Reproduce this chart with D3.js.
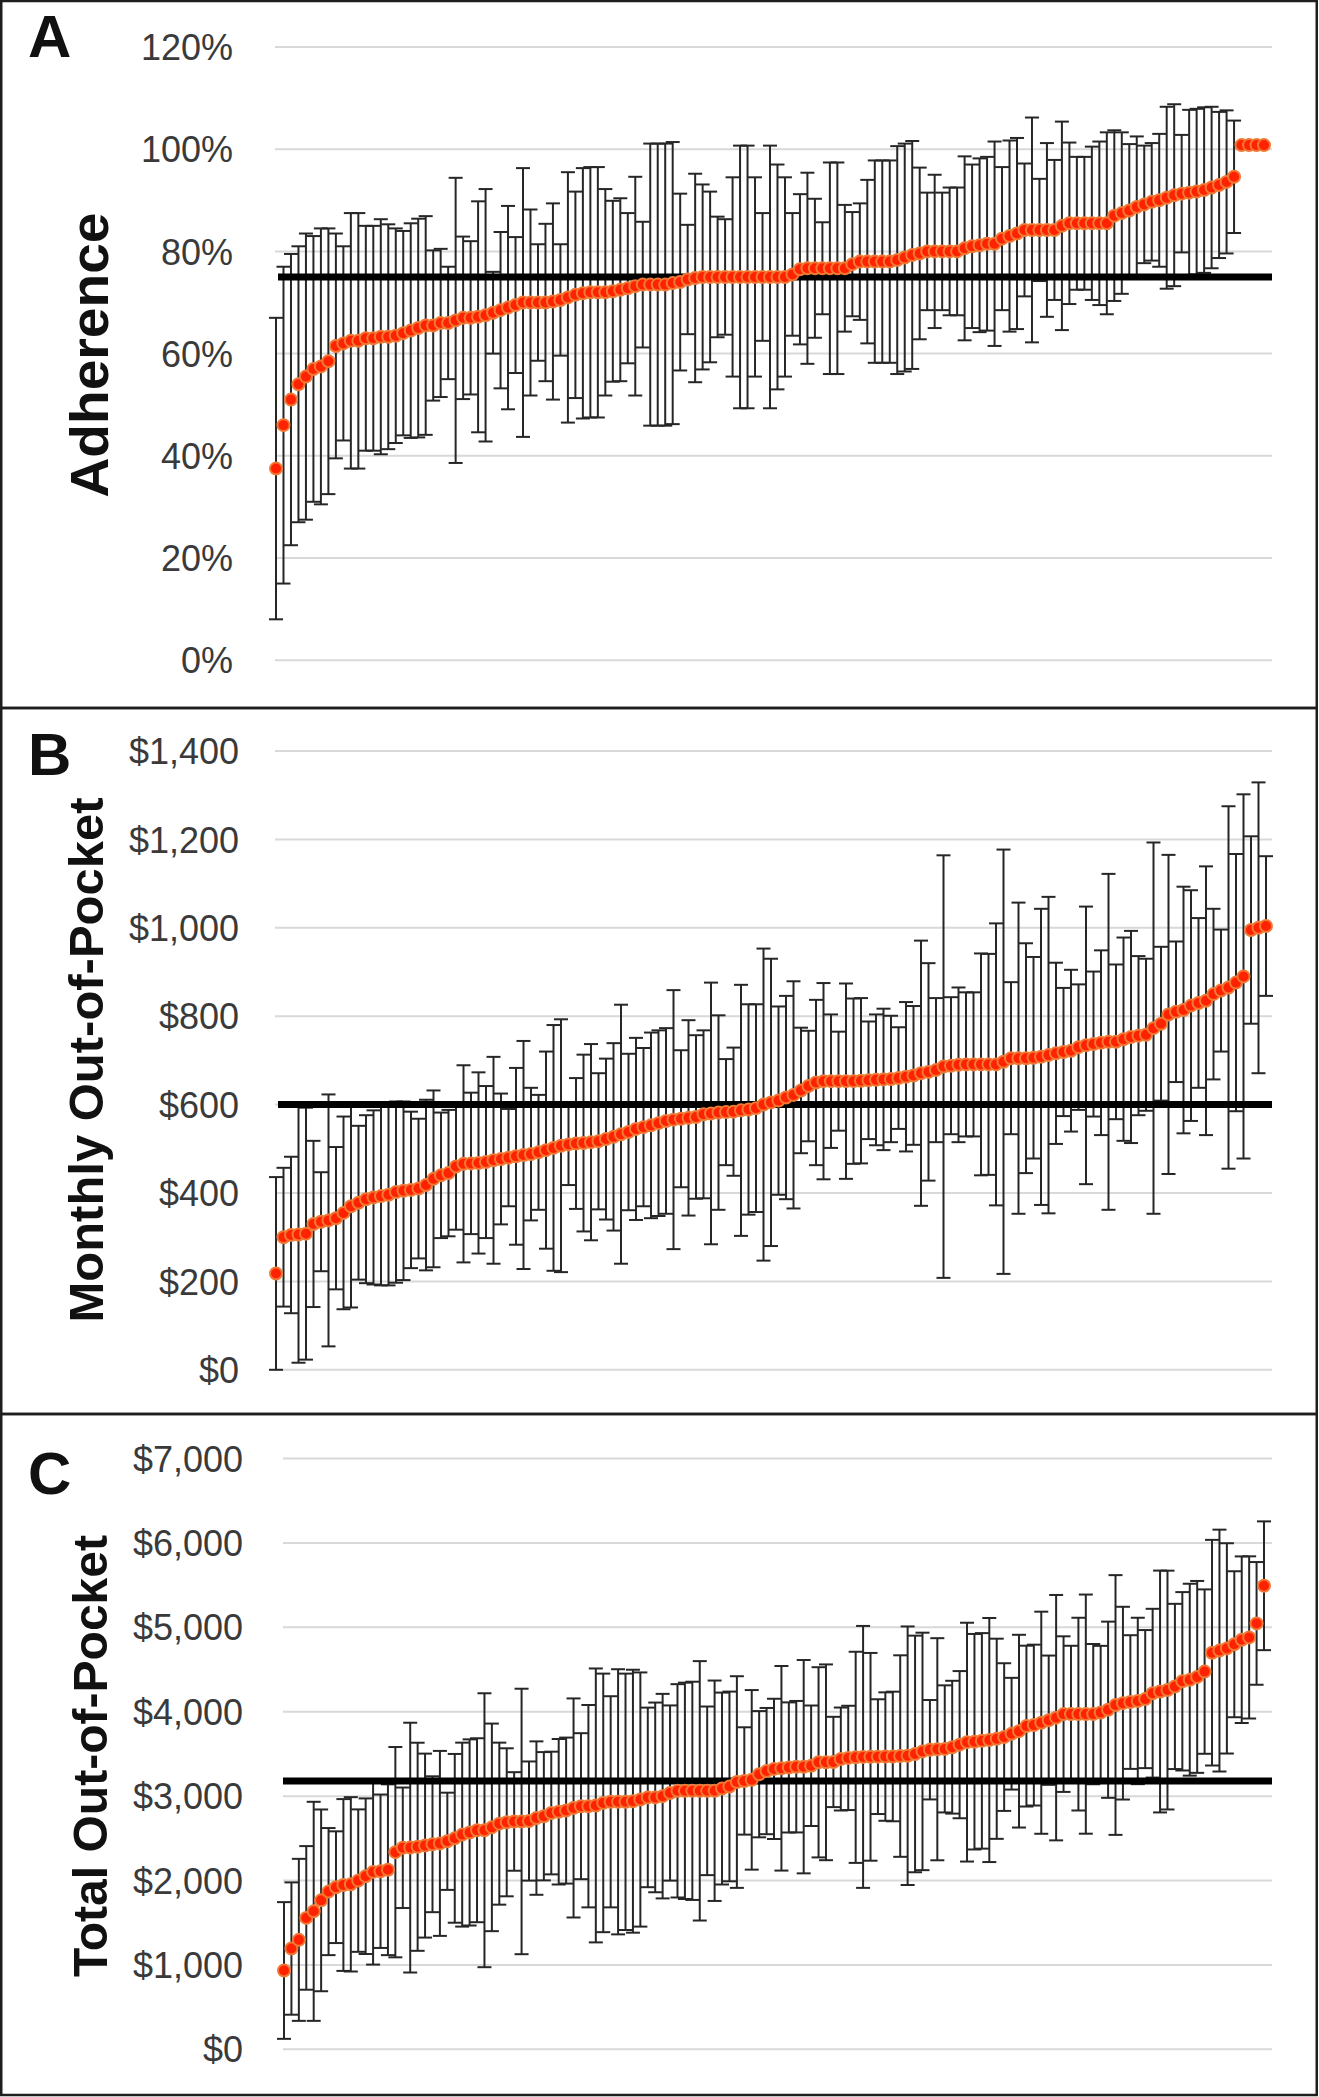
<!DOCTYPE html>
<html>
<head>
<meta charset="utf-8">
<script src="https://cdn.jsdelivr.net/npm/d3@7"></script>
<style>
  html, body { margin: 0; padding: 0; background: #ffffff; }
  svg { display: block; }
</style>
</head>
<body>
<script>
// ---------------- DATA ----------------
// Panel A: adherence (%) per plan, sorted; error = half-width of error bar
const adherenceMean = [
  37.5, 46, 51, 54, 55.5, 57, 57.5, 58.5, 61.5, 62,
  62.5, 62.5, 63, 63, 63.3, 63.3, 63.5, 64, 64.5, 65,
  65.5, 65.5, 66, 66, 66.5, 67, 67, 67.2, 67.5, 68,
  68.5, 69, 69.5, 70, 70, 70, 70, 70.2, 70.5, 71,
  71.5, 71.8, 72, 72, 72, 72.2, 72.5, 72.8, 73.2, 73.5,
  73.5, 73.5, 73.5, 73.8, 74, 74.5, 74.8, 75, 75, 75,
  75, 75, 75, 75, 75, 75, 75, 75, 75, 75.5,
  76.5, 76.7, 76.7, 76.7, 76.7, 76.7, 76.7, 77.5, 78, 78,
  78, 78, 78, 78.3, 78.8, 79.3, 79.6, 80, 80, 80,
  80, 80, 80.6, 81, 81.2, 81.5, 81.5, 82.5, 83, 83.5,
  84.2, 84.2, 84.2, 84.2, 84.2, 85, 85.5, 85.5, 85.5, 85.5,
  85.5, 85.5, 87, 87.5, 88, 88.7, 89.2, 89.7, 90, 90.5,
  91, 91.3, 91.5, 91.7, 92, 92.5, 93, 93.6, 94.6, 100.8,
  100.8, 100.8, 100.8
];
const adherenceErr = [
  29.5, 31, 28.5, 27, 28, 26, 27, 26, 22, 19,
  25, 25, 22, 22, 23, 22, 21, 20, 21,
  21.4, 21.4, 14.7, 14.5, 11, 27.9, 15.9, 15, 22.6, 24.7,
  8, 15.3, 19.9, 13.3, 26.3, 18.2, 11.4, 15.4, 19.2, 10.9,
  24.5, 20.2, 24.5, 24.5, 24.5, 20.2, 17.7, 17.9, 14.7, 21.4,
  12.3, 27.6, 27.6, 27.6, 27.6, 17.3, 10.7, 20.4, 18.1, 16.7,
  11.8, 11.3, 19.5, 25.7, 25.7, 19.5, 12.5, 25.7, 22, 19.5,
  12, 14.7, 18.7, 13.6, 9, 20.7, 20.7, 12.4, 10.2,
  11.4, 16, 19.8, 19.8, 19.8, 22.3, 22.3, 22.3, 16.8, 11.5,
  15, 11.5, 12.5, 12.5, 18, 16, 17, 17, 20, 14,
  18.7, 18.7, 13, 22, 10, 17, 13.7, 20.4, 15.8, 13,
  13, 15, 16, 17.8, 16.7, 15.8, 13, 13.8, 11.5, 11.5,
  13, 17.8, 17.8, 11.5, 16.2, 16.2, 16.2, 15.8, 14.3, 14,
  11, 0, 0, 0, 0
];
const adherenceThreshold = 75;
const adherenceTicks = [0, 20, 40, 60, 80, 100, 120];
const adherenceTickLabels = ["0%", "20%", "40%", "60%", "80%", "100%", "120%"];

// Panel B: monthly out-of-pocket ($)
const monthlyMean = [
  218, 300, 305, 306, 308, 330, 335, 338, 343, 355, 370, 378, 386, 390, 393, 396, 402, 405, 407, 410,
  418, 432, 440, 445, 460, 466, 467, 468, 470, 474, 477, 480, 483, 486, 488, 492, 497, 502, 507, 510,
  512, 513, 515, 517, 522, 527, 533, 538, 545, 549, 553, 558, 563, 566, 568, 570, 572, 578, 580, 582,
  583, 584, 587, 589, 592, 600, 605, 609, 616, 622, 632, 642, 650, 653, 653, 653, 653, 653, 654, 655,
  656, 657, 658, 660, 663, 666, 671, 674, 678, 686, 688, 690, 691, 691, 691, 691, 691, 697, 705, 705,
  705, 706, 708, 712, 716, 719, 722, 730, 734, 737, 740, 742, 742, 748, 753, 756, 758, 773, 783, 804,
  810, 814, 824, 830, 835, 850, 858, 865, 876, 890, 995, 1000, 1004
];
const monthlyErr = [
  218, 157, 177, 290, 285, 188, 112, 285, 161, 218,
  229, 174, 190, 197, 202, 205, 205, 202, 177, 158,
  193, 200, 142, 143, 143, 223, 160, 205, 172, 234,
  148, 110, 200, 258, 150, 130, 223, 278, 286, 92,
  148, 200, 222, 154, 182, 212, 293, 177, 206, 179,
  210, 210, 210, 293, 155, 221, 185, 190, 296, 220,
  120, 145, 284, 238, 235, 353, 325, 213, 230, 257,
  142, 125, 187, 222, 151, 112, 221, 187,
  187, 133, 148, 160, 143, 115, 169, 157, 300, 246,
  163, 478, 155, 175, 163, 163, 251, 250, 319, 480,
  172, 352, 260, 228, 335, 358, 205, 145, 183, 142,
  314, 164, 209, 380, 175, 230, 240, 180, 172, 420,
  174, 361, 159, 279, 261, 192, 304, 193, 138, 410,
  291, 412, 212, 329, 158
];
const monthlyThreshold = 600;
const monthlyTicks = [0, 200, 400, 600, 800, 1000, 1200, 1400];
const monthlyTickLabels = ["$0", "$200", "$400", "$600", "$800", "$1,000", "$1,200", "$1,400"];

// Panel C: total out-of-pocket ($)
const totalMean = [
  934, 1194, 1297, 1557, 1635, 1765, 1869, 1921, 1947, 1955, 1999, 2051, 2102, 2110, 2128, 2336, 2388, 2390,
  2400, 2414, 2430, 2440, 2465, 2500, 2544, 2570, 2596, 2596, 2630, 2674, 2690, 2700, 2700, 2705, 2740, 2762, 2800, 2815, 2829, 2860,
  2881, 2881, 2890, 2920, 2933, 2933, 2933, 2940, 2960, 2985, 2985, 3000, 3037, 3063, 3063, 3063, 3063, 3063, 3064, 3090,
  3115, 3167, 3180, 3193, 3260, 3297, 3323, 3330, 3340, 3349, 3349, 3360, 3401, 3401, 3405, 3440, 3453, 3460, 3465, 3466,
  3468, 3469, 3470, 3475, 3479, 3500, 3530, 3550, 3556, 3560, 3580, 3610, 3640, 3645, 3655, 3665, 3680, 3700, 3740, 3770,
  3830, 3842, 3870, 3900, 3930, 3972, 3972, 3972, 3972, 3972, 3990, 4024, 4080, 4102, 4115, 4128, 4150, 4220, 4240, 4257,
  4300, 4361, 4380, 4413, 4476, 4700, 4725, 4751, 4800, 4854, 4881, 5047, 5493
];
const totalErr = [
  810, 784, 960, 851, 1298, 1077, 753, 662, 1018, 1033,
  844, 922, 1098, 909, 1012, 1246, 714, 1480, 1233, 1090,
  805,
  1096, 576, 1000, 1090, 1103, 1090, 1623, 1230, 960, 877,
  584, 1573, 706, 909, 760, 727, 862, 865, 1298, 865,
  1199, 1623, 1532, 1251, 1571, 1519, 1558, 1506, 1064, 1124,
  1212, 1038, 1264, 1282, 1293, 1537, 999, 1306, 1137, 1124,
  1254, 636, 1064, 748, 748, 831, 1212, 771, 779, 1264,
  714, 1127, 1160, 535, 610, 618, 1251,
  1552, 1231, 680, 761, 768, 1194, 1532, 1402, 1407, 589,
  1316, 753, 787, 872, 1415, 1277, 1277, 1446, 1186, 875,
  662, 1142, 953, 953, 1316, 766, 1454, 922, 810, 1142,
  1417, 831, 791, 1044, 1539, 1142, 792, 986, 818, 1000,
  1433, 1415, 979, 1057, 1137, 1137, 974, 1337, 1433, 1246,
  865, 987, 961, 727, 763
];
const totalThreshold = 3180;
const totalTicks = [0, 1000, 2000, 3000, 4000, 5000, 6000, 7000];
const totalTickLabels = ["$0", "$1,000", "$2,000", "$3,000", "$4,000", "$5,000", "$6,000", "$7,000"];

const panelLetters = ["A", "B", "C"];
const axisTitles = ["Adherence", "Monthly Out-of-Pocket", "Total Out-of-Pocket"];

// ---------------- LAYOUT ----------------
const panels = [
  { mean: adherenceMean, err: adherenceErr, thr: adherenceThreshold,
    ticks: adherenceTicks, labels: adherenceTickLabels, letter: panelLetters[0], title: axisTitles[0],
    box: [1, 708], yRange: [660.2, 47], xRange: [276, 1264], grid: [275, 1272], thrX: [278, 1272],
    tickX: 233, titleX: 108, titleY: 355, titleLen: 285, titleSize: 54, letterY: 56.5 },
  { mean: monthlyMean, err: monthlyErr, thr: monthlyThreshold,
    ticks: monthlyTicks, labels: monthlyTickLabels, letter: panelLetters[1], title: axisTitles[1],
    box: [708, 1414], yRange: [1369.8, 751], xRange: [276, 1266], grid: [275, 1272], thrX: [278, 1272],
    tickX: 239, titleX: 103, titleY: 1060, titleLen: 525, titleSize: 49, letterY: 775 },
  { mean: totalMean, err: totalErr, thr: totalThreshold,
    ticks: totalTicks, labels: totalTickLabels, letter: panelLetters[2], title: axisTitles[2],
    box: [1414, 2095], yRange: [2049.3, 1458.6], xRange: [284, 1264], grid: [283, 1272], thrX: [283, 1272],
    tickX: 243, titleX: 107, titleY: 1756, titleLen: 442, titleSize: 48, letterY: 1494 }
];

const svg = d3.select("body").append("svg")
  .attr("width", 1319).attr("height", 2097);

svg.append("rect").attr("x", 0).attr("y", 0).attr("width", 1319).attr("height", 2097).attr("fill", "#fff");

panels.forEach(p => {
  const g = svg.append("g");
  const n = p.mean.length;
  const x = d3.scaleLinear().domain([0, n - 1]).range(p.xRange);
  const y = d3.scaleLinear().domain([p.ticks[0], p.ticks[p.ticks.length - 1]]).range(p.yRange);

  // panel border
  g.append("rect")
    .attr("x", 1.25).attr("y", p.box[0])
    .attr("width", 1315.5).attr("height", p.box[1] - p.box[0])
    .attr("fill", "none").attr("stroke", "#1e1e1e").attr("stroke-width", 2.5);

  // gridlines
  g.selectAll("line.grid").data(p.ticks).enter().append("line")
    .attr("x1", p.grid[0]).attr("x2", p.grid[1])
    .attr("y1", d => y(d)).attr("y2", d => y(d))
    .attr("stroke", "#d9d9d9").attr("stroke-width", 2);

  // y axis labels
  const axis = d3.axisLeft(y).tickValues(p.ticks)
    .tickFormat((d, i) => p.labels[i]).tickSize(0).tickPadding(0);
  const ag = g.append("g").attr("transform", `translate(${p.tickX},0)`).call(axis);
  ag.select(".domain").remove();
  ag.selectAll("text")
    .attr("font-family", "'Liberation Sans', Arial, sans-serif")
    .attr("font-size", 36).attr("fill", "#3a3a3a").attr("dy", "0.35em");

  // axis title
  g.append("text")
    .attr("transform", `translate(${p.titleX},${p.titleY}) rotate(-90)`)
    .attr("text-anchor", "middle")
    .attr("font-family", "'Liberation Sans', Arial, sans-serif")
    .attr("font-weight", "bold").attr("font-size", p.titleSize)
    .attr("textLength", p.titleLen).attr("lengthAdjust", "spacingAndGlyphs")
    .attr("fill", "#111").text(p.title);

  // panel letter
  g.append("text").attr("x", 28).attr("y", p.letterY)
    .attr("font-family", "'Liberation Sans', Arial, sans-serif")
    .attr("font-weight", "bold").attr("font-size", 60).attr("fill", "#111")
    .text(p.letter);

  const data = p.mean.map((m, i) => ({ i, m, e: p.err[i] }));
  const bars = data.filter(d => d.e > 0);

  // error bars
  const eb = g.append("g").attr("stroke", "#262626").attr("stroke-width", 2);
  eb.selectAll("line.v").data(bars).enter().append("line")
    .attr("x1", d => x(d.i)).attr("x2", d => x(d.i))
    .attr("y1", d => y(d.m - d.e)).attr("y2", d => y(d.m + d.e));
  eb.selectAll("line.t").data(bars).enter().append("line")
    .attr("x1", d => x(d.i) - 7).attr("x2", d => x(d.i) + 7)
    .attr("y1", d => y(d.m + d.e)).attr("y2", d => y(d.m + d.e));
  eb.selectAll("line.b").data(bars).enter().append("line")
    .attr("x1", d => x(d.i) - 7).attr("x2", d => x(d.i) + 7)
    .attr("y1", d => y(d.m - d.e)).attr("y2", d => y(d.m - d.e));

  // threshold line
  g.append("line")
    .attr("x1", p.thrX[0]).attr("x2", p.thrX[1])
    .attr("y1", y(p.thr)).attr("y2", y(p.thr))
    .attr("stroke", "#000").attr("stroke-width", 7);

  // points
  g.selectAll("circle").data(data).enter().append("circle")
    .attr("cx", d => x(d.i)).attr("cy", d => y(d.m)).attr("r", 6)
    .attr("fill", "#ff2200").attr("stroke", "#f07a35").attr("stroke-width", 2);
});
</script>
</body>
</html>
